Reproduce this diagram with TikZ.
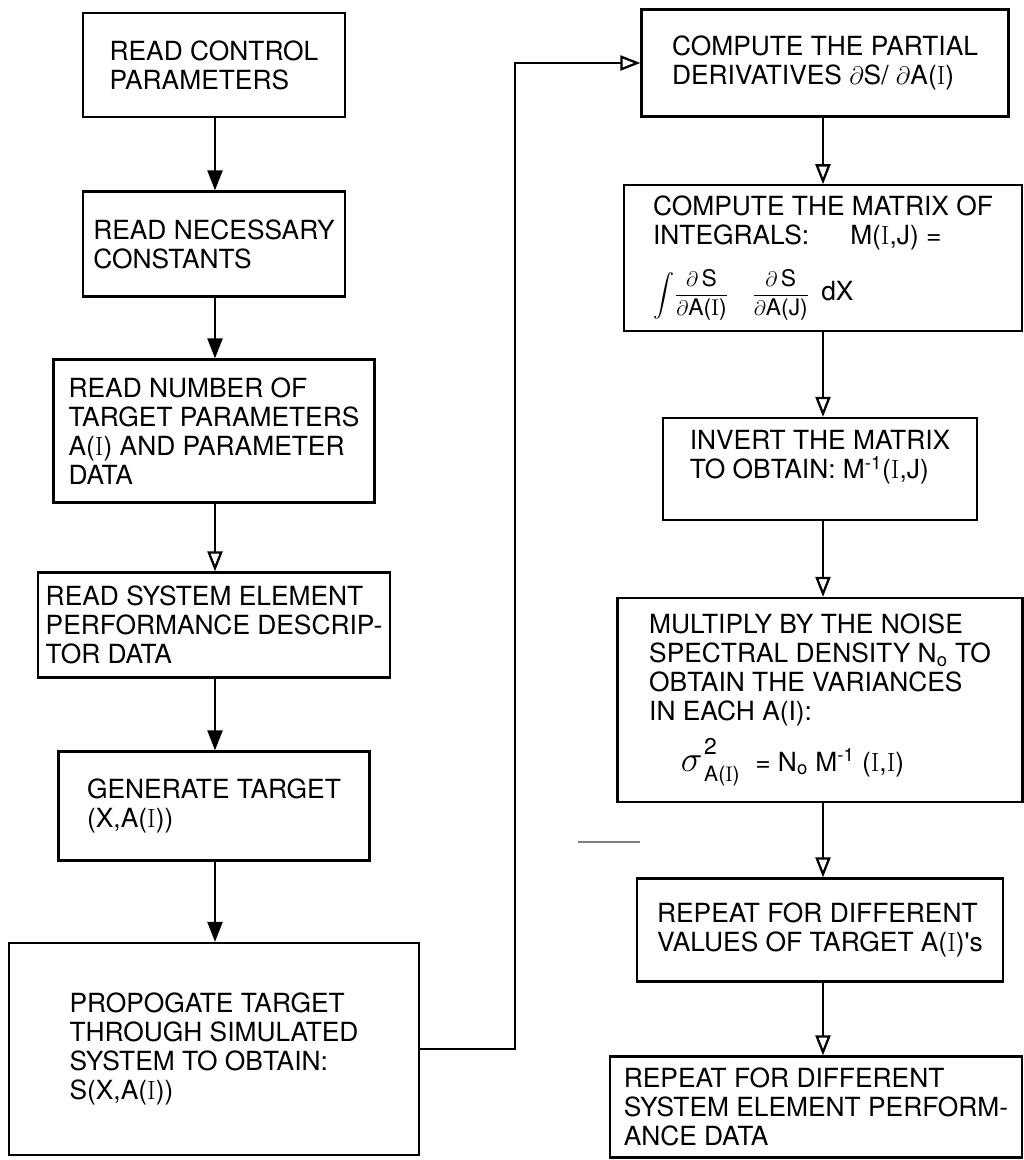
\documentclass[tikz,border=0pt]{standalone}
\usepackage{amsmath}
\usepackage{fontspec}
\usepackage{tikz}
\usetikzlibrary{arrows.meta, positioning}

\newfontfamily\heros{TeX Gyre Heros}
\newcommand{\rI}{\textrm{I}}

\tikzset{
  box/.style = {draw, line width=1.3pt, rectangle, align=left, inner sep=4pt,
                font=\heros\fontsize{15}{16.5}\selectfont},
  flow/.style = {line width=1.3pt, -{Triangle[length=0.4cm, width=0.3cm]}},
  flowopen/.style = {line width=1.3pt, -{Triangle[open, length=0.4cm, width=0.3cm]}},
}

\begin{document}
\begin{tikzpicture}[x = 0.02cm, y = -0.02cm]

\useasboundingbox (0, 0) rectangle (1024, 1160);

% left column
\node[box, minimum width=5.24cm, minimum height=2.08cm] (L1) at (214, 65) {READ CONTROL\\PARAMETERS};
\node[box, minimum width=5.24cm, minimum height=2.1cm] (L2) at (214, 244) {READ NECESSARY\\CONSTANTS};
\node[box, minimum width=6.42cm, minimum height=2.86cm] (L3) at (214, 431) {READ NUMBER OF\\TARGET PARAMETERS\\A(\rI) AND PARAMETER\\DATA};
\node[box, minimum width=7.04cm, minimum height=2.1cm] (L4) at (214, 625) {READ SYSTEM ELEMENT\\PERFORMANCE DESCRIP-\\TOR DATA};
\node[box, minimum width=6.22cm, minimum height=2.18cm] (L5) at (214, 806) {GENERATE TARGET\\(X,A(\rI))};
\node[box, minimum width=8.2cm, minimum height=4.24cm] (L6) at (214, 1049) {PROPOGATE TARGET\\THROUGH SIMULATED\\SYSTEM TO OBTAIN:\\S(X,A(\rI))};

% right column
\node[box, minimum width=7.34cm, minimum height=2.14cm] (R1) at (825, 63) {COMPUTE THE PARTIAL\\DERIVATIVES $\partial$S/ $\partial$A(\rI)};
\node[box, inner ysep=6pt, minimum width=7.96cm, minimum height=2.56cm] (R2) at (823, 258) {COMPUTE THE MATRIX OF\\INTEGRALS:\quad\ \ M(\rI,J) =\\[10pt]
  {\fontsize{13}{13}\selectfont$\displaystyle\int\!\frac{\partial\,\mbox{S}}{\partial\mbox{A(\rI)}}\quad\frac{\partial\,\mbox{S}}{\partial\mbox{A(J)}}$\enspace\mbox{\fontsize{15}{15}\selectfont dX}}};
\node[box, minimum width=6.28cm, minimum height=2.04cm] (R3) at (820, 469) {INVERT THE MATRIX\\TO OBTAIN: M\textsuperscript{-1}(\rI,J)\\\mbox{}};
\node[box, minimum width=8.1cm, minimum height=4.08cm] (R4) at (820, 700) {MULTIPLY BY THE NOISE\\SPECTRAL DENSITY N\textsubscript{o} TO\\OBTAIN THE VARIANCES\\IN EACH A(I):\\[6pt]
  \hspace{1.2em}{\fontsize{21}{21}\selectfont$\sigma$}\kern1pt$\mathstrut^{\raisebox{4pt}{\fontsize{13}{13}\selectfont 2}}_{\raisebox{-2pt}{\fontsize{12}{12}\selectfont A(\rI)}}$\ \ = N\textsubscript{o} M\textsuperscript{-1} (\rI,\rI)};
\node[box, minimum width=7.32cm, minimum height=2.06cm] (R5) at (820, 930) {REPEAT FOR DIFFERENT\\VALUES OF TARGET A(\rI)'s};
\node[box, minimum width=8.24cm, minimum height=2.02cm] (R6) at (816, 1107) {REPEAT FOR DIFFERENT\\SYSTEM ELEMENT PERFORM-\\ANCE DATA};

\coordinate (lx) at (215, 0);
\coordinate (rx) at (823, 0);
\coordinate (loop) at (515, 0);

% left arrows
\draw[flow] (L1.south -| lx) -- (L2.north -| lx);
\draw[flow] (L2.south -| lx) -- (L3.north -| lx);
\draw[flowopen] (L3.south -| lx) -- (L4.north -| lx);
\draw[flow] (L4.south -| lx) -- (L5.north -| lx);
\draw[flow] (L5.south -| lx) -- (L6.north -| lx);

% loop over to the right column
\draw[flowopen] (L6.east) -- (L6.east -| loop) |- (R1.west);

% right arrows
\draw[flowopen] (R1.south -| rx) -- (R2.north -| rx);
\draw[flowopen] (R2.south -| rx) -- (R3.north -| rx);
\draw[flowopen] (R3.south -| rx) -- (R4.north -| rx);
\draw[flowopen] (R4.south -| rx) -- (R5.north -| rx);
\draw[flowopen] (R5.south -| rx) -- (R6.north -| rx);

\draw[gray, line width=0.8pt] (578, 842) -- (640, 842);

\end{tikzpicture}
\end{document}
